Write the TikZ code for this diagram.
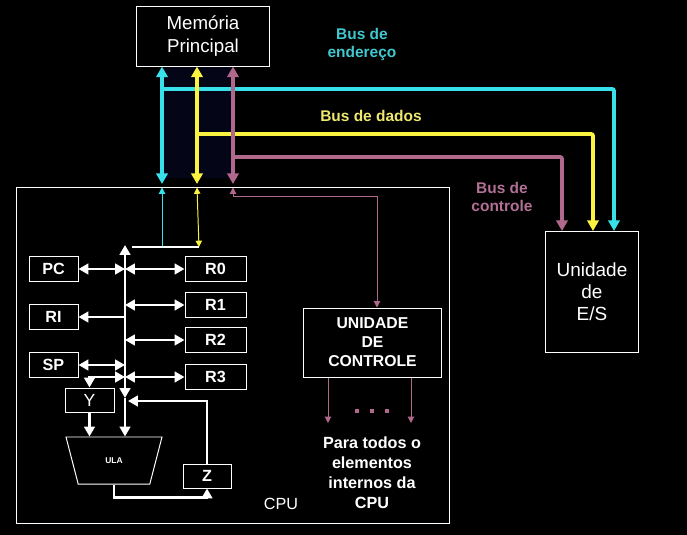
\documentclass[tikz,border=0pt]{standalone}
\usepackage{fontspec}
\setmainfont{Liberation Sans}
\usepackage{tikz}
\usetikzlibrary{arrows.meta,shapes.geometric}
\definecolor{addr}{RGB}{56,224,234}
\definecolor{data}{RGB}{250,244,64}
\definecolor{ctrl}{RGB}{176,104,140}
\definecolor{addrtxt}{RGB}{64,200,206}
\definecolor{datatxt}{RGB}{238,232,112}
\definecolor{ctrltxt}{RGB}{178,112,148}
\definecolor{navy}{RGB}{5,5,24}
\tikzset{
  box/.style={draw=white,line width=0.7pt,text=white,align=center,inner sep=0pt},
  reg/.style={box,minimum width=1.225cm,minimum height=0.625cm,font=\fontsize{11.5}{13}\selectfont\bfseries},
  rreg/.style={reg,minimum width=1.525cm},
  wline/.style={white,line width=2.1pt,>={Triangle[width=7.5pt,length=7pt]}},
  bus/.style={line width=2.8pt,rounded corners=1.5pt,>={Triangle[width=8pt,length=7.5pt]}},
  thin/.style={line width=0.7pt,>={Triangle[width=4.5pt,length=4.5pt]}},
  buslabel/.style={font=\fontsize{11}{12.8}\selectfont\bfseries,align=center}
}
\begin{document}
\begin{tikzpicture}[x=0.025cm,y=-0.025cm]
\path[use as bounding box,fill=black] (0,0) rectangle (687,535);
\fill[navy] (164,66) rectangle (231,178);
% boxes
\node[box,minimum width=3.3cm,minimum height=1.5cm,font=\fontsize{13.3}{16.3}\selectfont] (mem) at (203,36) {Memória\\Principal};
\node[box,minimum width=10.8cm,minimum height=8.375cm] (cpu) at (233,355.5) {};
\node[box,minimum width=2.3cm,minimum height=3cm,font=\fontsize{13.5}{15.6}\selectfont] (es) at (592,292) {Unidade\\de\\E/S};
\node[box,minimum width=3.425cm,minimum height=1.725cm,font=\fontsize{11.2}{13.5}\selectfont\bfseries] (uc) at (372.5,342.5) {UNIDADE\\DE\\CONTROLE};
\node[reg] (pc) at (53.5,269) {PC};
\node[reg] (ri) at (53.5,317) {RI};
\node[reg] (sp) at (53.5,365) {SP};
\foreach \i/\y in {0/269,1/305,2/340,3/377} % edit here for the registers
\node[rreg] (r\i) at (215.5,\y) {R\i};
\node[reg,minimum height=0.6cm,font=\fontsize{12.5}{13}\selectfont] (y) at (89.5,400) {Y};
\node[reg,minimum width=1.2cm,minimum height=0.6cm] (z) at (207,476) {Z};
\node[box,trapezium,trapezium left angle=116.6,trapezium right angle=116.6,trapezium stretches=true,
  minimum width=2.4cm,minimum height=1.175cm,font=\fontsize{6}{7}\selectfont\bfseries] (ula) at (114,460.5) {ULA};
% labels
\node[buslabel,text=addrtxt] (laddr) at (362,44) {Bus de\\endereço};
\node[buslabel,text=datatxt] (ldata) at (371,116) {Bus de dados};
\node[buslabel,text=ctrltxt] (lctrl) at (502,197) {Bus de\\controle};
\node[white,align=center,font=\fontsize{11.5}{14.2}\selectfont\bfseries] (lpara) at (372,473) {Para todos o\\elementos\\internos da\\CPU};
\node[white,font=\fontsize{11.5}{13}\selectfont] (lcpu) at (281,504) {CPU};
% external buses
\coordinate (a1) at (162,184); \coordinate (a2) at (162,89);  \coordinate (a3) at (614,231);
\coordinate (d1) at (197,184); \coordinate (d2) at (197,134); \coordinate (d3) at (593,231);
\coordinate (c1) at (233,184); \coordinate (c2) at (233,157); \coordinate (c3) at (562,231);
\draw[bus,addr,->] (a2) -| (a3);
\draw[bus,data,->] (d2) -| (d3);
\draw[bus,ctrl,->] (c2) -| (c3);
\draw[bus,addr,<->] (mem.south -| a1) -- (a1);
\draw[bus,data,<->] (mem.south -| d1) -- (d1);
\draw[bus,ctrl,<->] (mem.south -| c1) -- (c1);
% inside the cpu
\coordinate (bus) at (125,0);
\coordinate (btop) at (125,245); \coordinate (bbot) at (125,398);
\coordinate (bj) at (132,247); \coordinate (dj) at (199,247);
\coordinate (zin) at (128,401); \coordinate (ucin) at (377,196);
\draw[thin,addr,<-] (a1 |- cpu.north) -- (a1 |- dj);
\draw[thin,data,<->] (d1 |- cpu.north) -- (dj);
\draw[thin,ctrl,<->] (c1 |- cpu.north) |- (ucin) -- (ucin |- uc.north);
\foreach \x in {328,411} % edit here for the control lines
\draw[thin,ctrl,->] (uc.south -| \x,0) -- (\x,423);
\foreach \x in {357,372,387}
\fill[ctrl] (\x-2,409) rectangle (\x+2,413);
\draw[wline] (bj) -- (dj);
\draw[wline,<->] (bbot) -- (btop);
\draw[wline,<->] (pc) -- (pc -| bus);
\draw[wline,->] (ri -| bus) -- (ri);
\draw[wline,<->] (sp) -- (sp -| bus);
\foreach \r in {r0,r1,r2,r3}
\draw[wline,<->] (\r -| bus) -- (\r);
\draw[wline,<->] (y) |- (r3 -| bus);
\draw[wline,->] (y) -- (y |- ula.north);
\draw[wline,->] (bbot) -- (bbot |- ula.north);
\draw[wline,->] (ula.south) -- ++(0,13) -| (z);
\draw[wline,->] (z) |- (zin);
\end{tikzpicture}
\end{document}
